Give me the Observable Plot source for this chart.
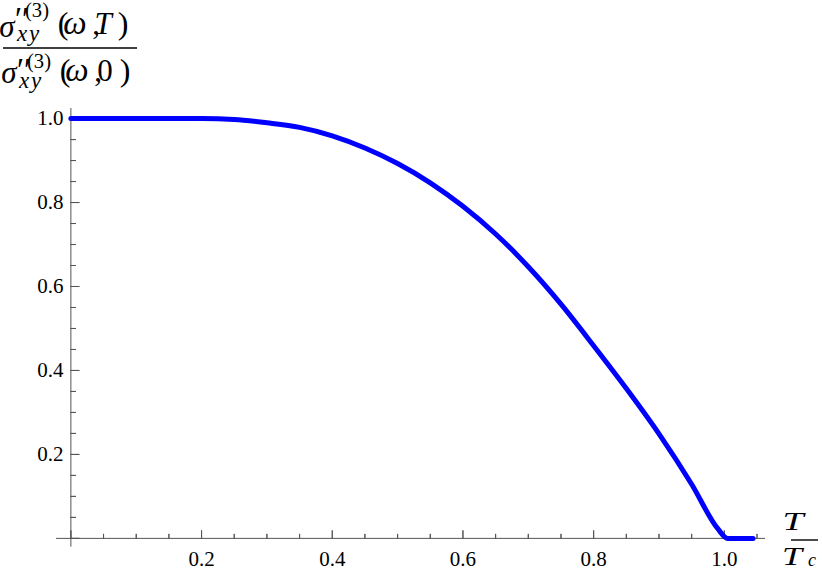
<!DOCTYPE html>
<html><head><meta charset="utf-8">
<script src="https://cdn.jsdelivr.net/npm/d3@7"></script>
<script src="https://cdn.jsdelivr.net/npm/@observablehq/plot@0.6"></script>
<style>
html,body{margin:0;padding:0;background:#fff;}
svg{display:block;}
#chart svg text{font-family:"Liberation Serif","Times New Roman",serif !important;}
</style>
</head><body><div id="chart"></div>
<script>
// Series: T/Tc and normalized sigma''(3)_xy(omega,T)/sigma''(3)_xy(omega,0)
const tOverTc    = [0, 0.05, 0.1, 0.15, 0.2, 0.25, 0.3, 0.35, 0.4, 0.45, 0.5, 0.55, 0.6, 0.65, 0.7, 0.75, 0.8, 0.85, 0.9, 0.95, 0.99, 1.005, 1.044];
const sigmaRatio = [1, 1, 1, 1, 1, 0.998, 0.990, 0.979, 0.959, 0.930, 0.893, 0.847, 0.791, 0.725, 0.647, 0.558, 0.459, 0.357, 0.249, 0.129, 0.023, 0, 0];

// Axis ticks
const xMajorTicks = [0, 0.2, 0.4, 0.6, 0.8, 1.0];
const xMinorTicks = [0.05, 0.1, 0.15, 0.25, 0.3, 0.35, 0.45, 0.5, 0.55, 0.65, 0.7, 0.75, 0.85, 0.9, 0.95, 1.05];
const yMajorTicks = [0, 0.2, 0.4, 0.6, 0.8, 1.0];
const yMinorTicks = [0.05, 0.1, 0.15, 0.25, 0.3, 0.35, 0.45, 0.5, 0.55, 0.65, 0.7, 0.75, 0.85, 0.9, 0.95];
const xTickValues = [0.2, 0.4, 0.6, 0.8, 1.0];
const xTickLabels = ["0.2", "0.4", "0.6", "0.8", "1.0"];
const yTickValues = [0.2, 0.4, 0.6, 0.8, 1.0];
const yTickLabels = ["0.2", "0.4", "0.6", "0.8", "1.0"];

const curve = tOverTc.map((t, i) => ({t, r: sigmaRatio[i]}));
const xLab = xTickValues.map((v, i) => ({v, s: xTickLabels[i]}));
const yLab = yTickValues.map((v, i) => ({v, s: yTickLabels[i]}));

const serif = "Liberation Serif";
const axisColor = "#555";

const chart = Plot.plot({
  width: 822,
  height: 570,
  marginLeft: 56,
  marginRight: 57,
  marginTop: 108,
  marginBottom: 23.3,
  style: {background: "white", overflow: "visible"},
  x: {domain: [-0.022, 1.063], axis: null},
  y: {domain: [-0.021, 1.024], axis: null},
  marks: [
    Plot.ruleY([0], {stroke: axisColor, strokeWidth: 1}),
    Plot.ruleX([0], {stroke: axisColor, strokeWidth: 1}),
    Plot.vector(xMajorTicks, {x: d => d, y: 0, length: 8, rotate: 0, anchor: "start", shape: "spike", r: 0, stroke: axisColor, fill: "none", strokeWidth: 1}),
    Plot.vector(xMinorTicks, {x: d => d, y: 0, length: 4.5, rotate: 0, anchor: "start", shape: "spike", r: 0, stroke: axisColor, fill: "none", strokeWidth: 1}),
    Plot.vector(yMajorTicks, {x: 0, y: d => d, length: 8.5, rotate: 90, anchor: "start", shape: "spike", r: 0, stroke: axisColor, fill: "none", strokeWidth: 1}),
    Plot.vector(yMinorTicks, {x: 0, y: d => d, length: 5, rotate: 90, anchor: "start", shape: "spike", r: 0, stroke: axisColor, fill: "none", strokeWidth: 1}),
    Plot.text(xLab, {x: "v", y: 0, text: "s", dy: 20.5, fontSize: 21, fontFamily: serif, fill: "black"}),
    Plot.text(yLab, {x: 0, y: "v", text: "s", dx: -7.5, textAnchor: "end", fontSize: 21, fontFamily: serif, fill: "black"}),
    Plot.line(curve, {x: "t", y: "r", stroke: "#0000ff", strokeWidth: 5, curve: "monotone-x", strokeLinejoin: "round"})
  ]
});
document.getElementById("chart").appendChild(chart);

// Axis labels (math fractions), each glyph run placed separately
const svg = d3.select(chart);
const g = svg.append("g").attr("fill", "black");
function txt(x, y, s, size, italic, len) {
  const e = g.append("text").attr("x", x).attr("y", y).attr("font-size", size)
    .attr("font-style", italic ? "italic" : "normal").text(s);
  if (len) e.attr("textLength", len).attr("lengthAdjust", "spacingAndGlyphs");
  return e;
}
function fractionPart(dx, dy, sdy, inner, innerItalic) {
  txt(7 + dx, 36.5 + dy, "σ", 31, true);               // sigma
  txt(22 + dx, 30 + dy + sdy, "′′", 34, false, 14);    // double prime
  txt(37 + dx, 17 + dy + sdy, "(3)", 20, false, 24);   // superscript (3)
  txt(22 + dx, 41 + dy, "x", 23, true);                // subscript x
  txt(34 + dx, 41 + dy, "y", 23, true);                // subscript y
  txt(63 + dx, 34 + dy, "(", 32, false);
  txt(75 + dx, 34 + dy, "ω", 33, true);
  txt(96 + dx, 34 + dy, ",", 31, false);
  txt(103 + dx, 34 + dy, inner, 31, innerItalic);
  txt(123 + dx, 34 + dy, ")", 32, false);
}
fractionPart(0, 0, 0, "T", true);
g.append("line").attr("x1", 3).attr("x2", 137).attr("y1", 48).attr("y2", 48).attr("stroke", "black").attr("stroke-width", 1.6);
fractionPart(2, 46.5, 4.5, "0", false);

// x-axis label T / T_c
txt(793, 530, "T", 26, true, 21);
g.append("line").attr("x1", 791).attr("x2", 818).attr("y1", 540).attr("y2", 540).attr("stroke", "black").attr("stroke-width", 1.4);
txt(792, 565, "T", 26, true, 20);
txt(812, 565.5, "c", 18, true, 8);
</script>
</body></html>
